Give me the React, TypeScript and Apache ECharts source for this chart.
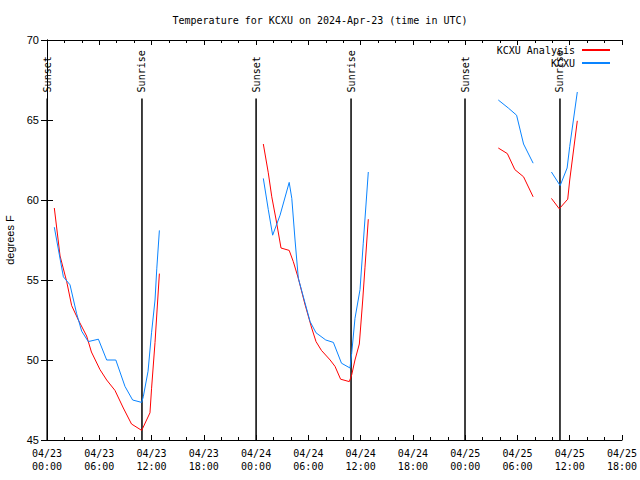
import React, { useEffect, useRef } from "react";
import * as echarts from "echarts";

// hours since 2024-04-23 00:00 UTC; null marks a gap
const analysisHours = [0.84, 1.5, 2.26, 2.83, 3.6, 4.55, 5.1, 6.08, 6.85, 7.8, 8.76, 9.7, 10.87, 11.82, 12.0, 12.4, 12.9, 18,
  24.83, 25.4, 25.8, 26.3, 26.86, 27.8, 28.27, 28.85, 29.6, 30.38, 30.88, 31.5, 32.5, 33.06, 33.7, 34.7, 34.97, 35.35, 35.85, 36.24, 36.5, 36.88, 44,
  51.8, 52.84, 53.7, 54.7, 55.8, 56.8,
  57.9, 58.8, 59.77, 60.0, 60.87];
const analysisTemps = [59.5, 56.5, 54.9, 53.4, 52.5, 51.5, 50.5, 49.4, 48.75, 48.1, 47.0, 46.0, 45.6, 46.7, 48.2, 51.1, 55.4, null,
  63.5, 61.7, 60.2, 58.75, 57.0, 56.85, 56.15, 55.1, 53.5, 52.0, 51.15, 50.6, 50.0, 49.6, 48.8, 48.65, 49.06, 50.0, 51.0, 53.75, 55.8, 58.8, null,
  63.25, 62.9, 61.9, 61.45, 60.2, null,
  60.1, 59.45, 60.05, 61.25, 64.95];

const obsHours = [0.84, 1.88, 2.64, 3.4, 3.98, 4.74, 5.9, 6.85, 7.9, 8.95, 9.83, 10.87, 11.05, 11.6, 12.0, 12.4, 12.6, 12.9, 18,
  24.83, 25.4, 25.9, 26.75, 27.8, 28.1, 28.47, 28.85, 29.6, 30.2, 30.88, 32.0, 32.87, 33.8, 34.78, 34.97, 35.35, 35.93, 36.3, 36.88, 44,
  51.8, 52.95, 53.9, 54.7, 55.8, 56.8,
  57.9, 58.9, 59.7, 60.0, 60.87];
const obsTemps = [58.3, 55.2, 54.7, 52.9, 51.8, 51.15, 51.3, 50.0, 50.0, 48.35, 47.5, 47.35, 47.7, 49.3, 51.7, 53.75, 55.7, 58.1, null,
  61.35, 59.4, 57.8, 59.05, 61.1, 60.1, 57.5, 55.1, 53.6, 52.4, 51.7, 51.25, 51.1, 49.8, 49.5, 50.4, 52.6, 54.4, 57.3, 61.75, null,
  66.25, 65.75, 65.3, 63.5, 62.3, null,
  61.75, 60.9, 62.0, 63.35, 66.75];

const sunHours = [0.02, 10.9, 24.0, 34.9, 47.98, 58.88];
const sunLabels = ["Sunset", "Sunrise", "Sunset", "Sunrise", "Sunset", "Sunrise"];
const sunLineTop = 66.35;

const xTickLabels = [
  "04/23\n00:00", "04/23\n06:00", "04/23\n12:00", "04/23\n18:00",
  "04/24\n00:00", "04/24\n06:00", "04/24\n12:00", "04/24\n18:00",
  "04/25\n00:00", "04/25\n06:00", "04/25\n12:00", "04/25\n18:00",
];

const MONO = "DejaVu Sans Mono";
const SANS = "Liberation Sans";

function zip(xs: number[], ys: (number | null)[]) {
  return xs.map((x, i) => [x, ys[i] === null ? "-" : ys[i]]);
}

export default function App() {
  const ref = useRef<HTMLDivElement>(null);
  useEffect(() => {
    if (!ref.current) return;
    const chart = echarts.init(ref.current, null, { renderer: "svg" });
    const tickCommon = {
      type: "value" as const,
      min: 0,
      max: 66,
      interval: 6,
      splitLine: { show: false },
      axisLine: { show: true, lineStyle: { color: "#000", width: 1 } },
      axisTick: { show: true, inside: true, length: 5, lineStyle: { color: "#000" } },
      minorTick: { show: true, splitNumber: 3, length: 3, lineStyle: { color: "#000" } },
    };
    const legendCommon = {
      right: 25,
      align: "right",
      icon: "rect",
      itemWidth: 28,
      itemHeight: 2,
      itemGap: 0,
      textStyle: { fontFamily: MONO, fontSize: 10, color: "#000", padding: [0, 2, 0, 0] },
    };
    chart.setOption({
      animation: false,
      backgroundColor: "#fff",
      title: {
        text: "Temperature for KCXU on 2024-Apr-23 (time in UTC)",
        left: "center",
        top: 10,
        textStyle: { fontFamily: MONO, fontSize: 10, fontWeight: "normal", color: "#000" },
      },
      legend: [
        { ...legendCommon, data: ["KCXU Analysis"], top: 40 },
        { ...legendCommon, data: ["KCXU"], top: 53 },
      ],
      grid: { left: 47, right: 18, top: 40, bottom: 40, outerBoundsMode: "none", containLabel: false },
      xAxis: [
        {
          ...tickCommon,
          position: "bottom",
          axisLabel: {
            fontFamily: MONO,
            fontSize: 10,
            color: "#000",
            margin: 7,
            lineHeight: 13,
            formatter: (v: number) => xTickLabels[Math.round(v / 6)] ?? "",
          },
        },
        {
          ...tickCommon,
          position: "top",
          axisLabel: { show: false },
        },
      ],
      yAxis: [
        {
          type: "value",
          min: 45,
          max: 70,
          interval: 5,
          name: "degrees F",
          nameLocation: "middle",
          nameGap: 32,
          nameTextStyle: { fontFamily: SANS, fontSize: 11, color: "#000" },
          splitLine: { show: false },
          axisLine: { show: true, lineStyle: { color: "#000" } },
          axisTick: { show: true, inside: true, length: 6, lineStyle: { color: "#000" } },
          axisLabel: { fontFamily: SANS, fontSize: 11, color: "#000", margin: 8 },
        },
        {
          type: "value",
          min: 45,
          max: 70,
          interval: 5,
          position: "right",
          splitLine: { show: false },
          axisLine: { show: true, lineStyle: { color: "#000" } },
          axisTick: { show: true, inside: true, length: 6, lineStyle: { color: "#000" } },
          axisLabel: { show: false },
        },
      ],
      series: [
        {
          type: "custom",
          name: "sun",
          silent: true,
          clip: false,
          data: sunHours.map((h) => [h, 45]),
          renderItem: (params: any, api: any) => {
            const x = api.value(0);
            const top = api.coord([x, sunLineTop]);
            const bottom = api.coord([x, 45]);
            return {
              type: "group",
              children: [
                {
                  type: "line",
                  shape: { x1: top[0], y1: top[1], x2: bottom[0], y2: bottom[1] },
                  style: { stroke: "#000", lineWidth: 1.5 },
                },
                {
                  type: "text",
                  x: top[0],
                  y: top[1] - 6,
                  rotation: Math.PI / 2,
                  style: {
                    text: sunLabels[params.dataIndex],
                    fontFamily: MONO,
                    fontSize: 10,
                    fill: "#000",
                    align: "left",
                    verticalAlign: "middle",
                  },
                },
              ],
            };
          },
          z: 1,
        },
        {
          type: "line",
          name: "KCXU Analysis",
          data: zip(analysisHours, analysisTemps),
          symbol: "none",
          connectNulls: false,
          color: "#ff0000",
          lineStyle: { color: "#ff0000", width: 1 },
          z: 3,
        },
        {
          type: "line",
          name: "KCXU",
          data: zip(obsHours, obsTemps),
          symbol: "none",
          connectNulls: false,
          color: "#0a84ff",
          lineStyle: { color: "#0a84ff", width: 1 },
          z: 4,
        },
      ],
    });
    return () => chart.dispose();
  }, []);
  return (
    <div
      ref={ref}
      style={{ position: "fixed", left: 0, top: 0, width: 640, height: 480, background: "#fff" }}
    />
  );
}
